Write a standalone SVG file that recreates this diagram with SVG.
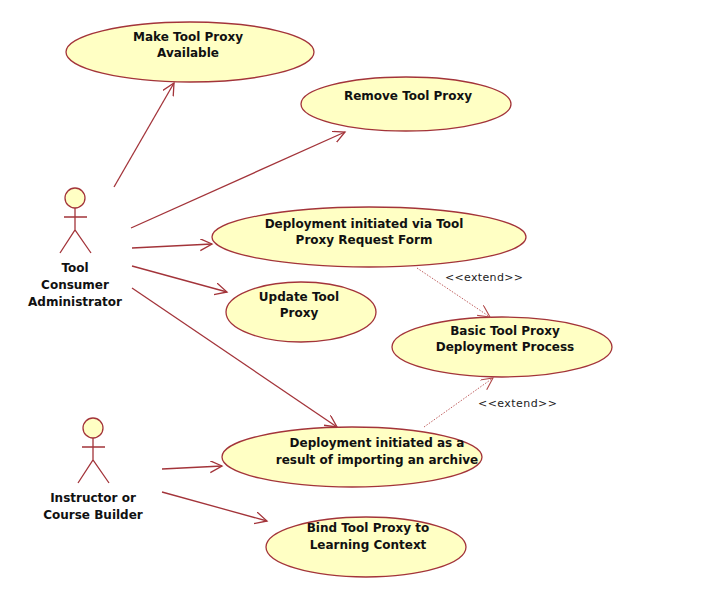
<svg xmlns="http://www.w3.org/2000/svg" width="711" height="602" viewBox="0 0 711 602">
<style>
.uc ellipse{fill:#ffffc4;stroke:#a3343a;stroke-width:1.3}
.lbl{font-family:"DejaVu Sans",Verdana,sans-serif;font-weight:bold;font-size:12px;fill:#111;text-anchor:middle}
.actor circle{fill:#ffffc4;stroke:#a3343a;stroke-width:1.3}
.actor path{fill:none;stroke:#a3343a;stroke-width:1.3}
.assoc{stroke:#a3343a;stroke-width:1.3;fill:none;marker-end:url(#open)}
.ext{stroke:#c06060;stroke-width:1;stroke-dasharray:1.5 1.5;fill:none;marker-end:url(#openx)}
.st{font-family:"DejaVu Sans",Verdana,sans-serif;font-size:11px;fill:#222}
</style>
<defs>
<marker id="open" markerWidth="14" markerHeight="14" refX="12" refY="6" orient="auto" markerUnits="userSpaceOnUse"><path d="M0,0 L12,6 L0,12" fill="none" stroke="#a3343a" stroke-width="1.3"/></marker>
<marker id="openx" markerWidth="14" markerHeight="14" refX="12" refY="6" orient="auto" markerUnits="userSpaceOnUse"><path d="M0,0 L12,6 L0,12" fill="none" stroke="#b04848" stroke-width="1.1"/></marker>
</defs>
<rect width="711" height="602" fill="#fff"/>
<g id="uc1" class="uc"><ellipse cx="190" cy="52" rx="124" ry="30"/><text class="lbl" x="188" y="41">Make Tool Proxy</text><text class="lbl" x="188" y="57">Available</text></g>
<g id="uc2" class="uc"><ellipse cx="406" cy="104" rx="105" ry="27"/><text class="lbl" x="408" y="100">Remove Tool Proxy</text></g>
<g id="uc3" class="uc"><ellipse cx="369" cy="237" rx="157" ry="30"/><text class="lbl" x="364" y="228">Deployment initiated via Tool</text><text class="lbl" x="364" y="244">Proxy Request Form</text></g>
<g id="uc4" class="uc"><ellipse cx="301" cy="312" rx="75" ry="30"/><text class="lbl" x="299" y="301">Update Tool</text><text class="lbl" x="299" y="317">Proxy</text></g>
<g id="uc5" class="uc"><ellipse cx="502" cy="347" rx="110" ry="30"/><text class="lbl" x="505" y="335">Basic Tool Proxy</text><text class="lbl" x="505" y="351">Deployment Process</text></g>
<g id="uc6" class="uc"><ellipse cx="352" cy="457" rx="130" ry="30"/><text class="lbl" x="377" y="447">Deployment initiated as a</text><text class="lbl" x="377" y="464">result of importing an archive</text></g>
<g id="uc7" class="uc"><ellipse cx="366" cy="547" rx="100" ry="30"/><text class="lbl" x="368" y="532">Bind Tool Proxy to</text><text class="lbl" x="368" y="549">Learning Context</text></g>
<g id="actor1" class="actor"><circle cx="75" cy="198" r="10"/><path d="M75,208 V230 M64,217 H87 M60,253 L75,230 L91,253"/><text class="lbl" x="75" y="272">Tool</text><text class="lbl" x="75" y="289">Consumer</text><text class="lbl" x="75" y="306">Administrator</text></g>
<g id="actor2" class="actor"><circle cx="93" cy="428" r="10"/><path d="M93,438 V460 M82,447 H105 M78,483 L93,460 L109,483"/><text class="lbl" x="93" y="502">Instructor or</text><text class="lbl" x="93" y="519">Course Builder</text></g>
<g id="connectors">
<line class="assoc" x1="114" y1="187" x2="174" y2="83"/>
<line class="assoc" x1="131" y1="228" x2="345" y2="132"/>
<line class="assoc" x1="132" y1="248" x2="212" y2="244"/>
<line class="assoc" x1="132" y1="266" x2="227" y2="292"/>
<line class="assoc" x1="132" y1="288" x2="337" y2="427"/>
<line class="assoc" x1="162" y1="469" x2="222" y2="466"/>
<line class="assoc" x1="162" y1="492" x2="267" y2="521"/>
<line class="ext" x1="417" y1="268" x2="490" y2="317"/>
<line class="ext" x1="424" y1="427" x2="493" y2="378"/>
<text class="st" x="445" y="281" textLength="78">&lt;&lt;extend&gt;&gt;</text>
<text class="st" x="478" y="407" textLength="79">&lt;&lt;extend&gt;&gt;</text>
</g>
</svg>
